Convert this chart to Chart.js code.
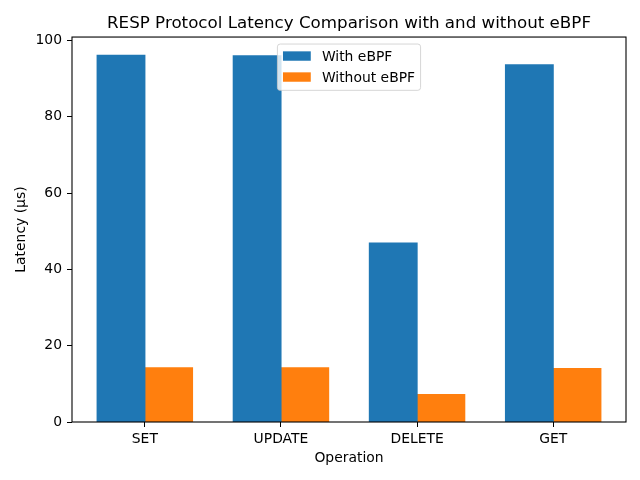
<!DOCTYPE html>
<html><head><meta charset="utf-8">
<script src="https://cdn.jsdelivr.net/npm/chart.js@4"></script>
<style>html,body{margin:0;padding:0;background:#fff}canvas{display:block}</style>
</head><body>
<canvas id="c" width="640" height="480"></canvas>
<script>
const categories = ['SET', 'UPDATE', 'DELETE', 'GET'];
const withEbpf = [96.1, 96.0, 46.9, 93.6];
const withoutEbpf = [14.2, 14.2, 7.2, 14.0];
const seriesLabels = ['With eBPF', 'Without eBPF'];
const yTicks = [0, 20, 40, 60, 80, 100];
const titleText = 'RESP Protocol Latency Comparison with and without eBPF';
const xTitle = 'Operation';
const yTitle = 'Latency (µs)';

const FONT = "'DejaVu Sans', sans-serif";
const FS = 13.9;
Chart.defaults.color = '#000';
Chart.defaults.font.family = FONT;
Chart.defaults.font.size = FS;

const frameAndLegend = {
  id: 'frameAndLegend',
  afterLayout(chart) {
    const t = chart.titleBlock;
    if (t) {
      t.left = chart.chartArea.left;
      t.right = chart.chartArea.right;
      t.width = t.right - t.left;
    }
  },
  afterDatasetsDraw(chart) {
    const {ctx, chartArea: a} = chart;
    ctx.save();
    ctx.strokeStyle = '#000';
    ctx.lineWidth = 1.1;
    ctx.strokeRect(a.left, a.top, a.right - a.left, a.bottom - a.top);
    ctx.restore();
  },
  afterDraw(chart) {
    const {ctx, chartArea: a} = chart;
    const ds = chart.data.datasets;
    ctx.save();
    ctx.font = FS + 'px ' + FONT;
    const tw = Math.max(...ds.map(d => ctx.measureText(d.label).width));
    const pad = 0.4 * FS, hl = 2 * FS, tp = 0.8 * FS;
    const w = pad + hl + tp + tw + pad;
    const h = 46.3;
    const x = (a.left + a.right) / 2 - w / 2;
    const y = a.top + 7;
    const r = 2.8;
    ctx.beginPath();
    ctx.moveTo(x + r, y);
    ctx.lineTo(x + w - r, y);
    ctx.quadraticCurveTo(x + w, y, x + w, y + r);
    ctx.lineTo(x + w, y + h - r);
    ctx.quadraticCurveTo(x + w, y + h, x + w - r, y + h);
    ctx.lineTo(x + r, y + h);
    ctx.quadraticCurveTo(x, y + h, x, y + h - r);
    ctx.lineTo(x, y + r);
    ctx.quadraticCurveTo(x, y, x + r, y);
    ctx.closePath();
    ctx.fillStyle = 'rgba(255,255,255,0.8)';
    ctx.fill();
    ctx.strokeStyle = 'rgba(204,204,204,0.8)';
    ctx.lineWidth = 1;
    ctx.stroke();
    ds.forEach((d, i) => {
      const cy = a.top + 19 + 21 * i;
      ctx.fillStyle = d.backgroundColor;
      ctx.fillRect(x + pad, cy - 4.7, hl, 9.4);
      ctx.fillStyle = '#000';
      ctx.textBaseline = 'alphabetic';
      ctx.textAlign = 'left';
      ctx.fillText(d.label, x + pad + hl + tp, cy + 5);
    });
    ctx.restore();
  }
};

new Chart(document.getElementById('c'), {
  type: 'bar',
  data: {
    datasets: [
      { label: seriesLabels[0], data: categories.map((c, i) => ({x: i, y: withEbpf[i]})),
        backgroundColor: '#1f77b4', borderWidth: 0, inflateAmount: 0.6 },
      { label: seriesLabels[1], data: categories.map((c, i) => ({x: i, y: withoutEbpf[i]})),
        backgroundColor: '#ff7f0e', borderWidth: 0, inflateAmount: 0.6 }
    ]
  },
  options: {
    responsive: false,
    animation: false,
    devicePixelRatio: 1,
    categoryPercentage: 0.7,
    barPercentage: 1.0,
    layout: { padding: { left: 0, right: 14, top: 0, bottom: 0 } },
    plugins: {
      legend: { display: false },
      tooltip: { enabled: false },
      title: {
        display: true, text: titleText, color: '#000', align: 'center',
        font: { family: FONT, size: 16.7, weight: 'normal', lineHeight: 1.2 },
        padding: { top: 14, bottom: 3 }
      }
    },
    scales: {
      x: {
        type: 'linear', min: -0.535, max: 3.535, offset: false,
        afterBuildTicks: s => { s.ticks = categories.map((c, i) => ({value: i})); },
        afterFit: s => { s.height = 58; },
        ticks: { callback: v => categories[v], padding: 4, maxRotation: 0, autoSkip: false, color: '#000',
                 font: { family: FONT, size: FS } },
        grid: { display: true, offset: false, drawOnChartArea: false, drawTicks: true, tickLength: 5, color: '#000', lineWidth: 1 },
        border: { display: false },
        title: { display: true, text: xTitle, color: '#000', font: { family: FONT, size: FS },
                 padding: { top: 0, bottom: 13 } }
      },
      y: {
        min: 0, max: 100.9,
        afterBuildTicks: s => { s.ticks = yTicks.map(v => ({value: v})); },
        afterFit: s => { s.width = 72; },
        ticks: { padding: 5, color: '#000', font: { family: FONT, size: FS } },
        grid: { display: true, drawOnChartArea: false, drawTicks: true, tickLength: 5, color: '#000', lineWidth: 1 },
        border: { display: false },
        title: { display: true, text: yTitle, color: '#000', font: { family: FONT, size: FS },
                 padding: { top: 12.7, bottom: 0 } }
      }
    }
  },
  plugins: [frameAndLegend]
});
</script>
</body></html>
